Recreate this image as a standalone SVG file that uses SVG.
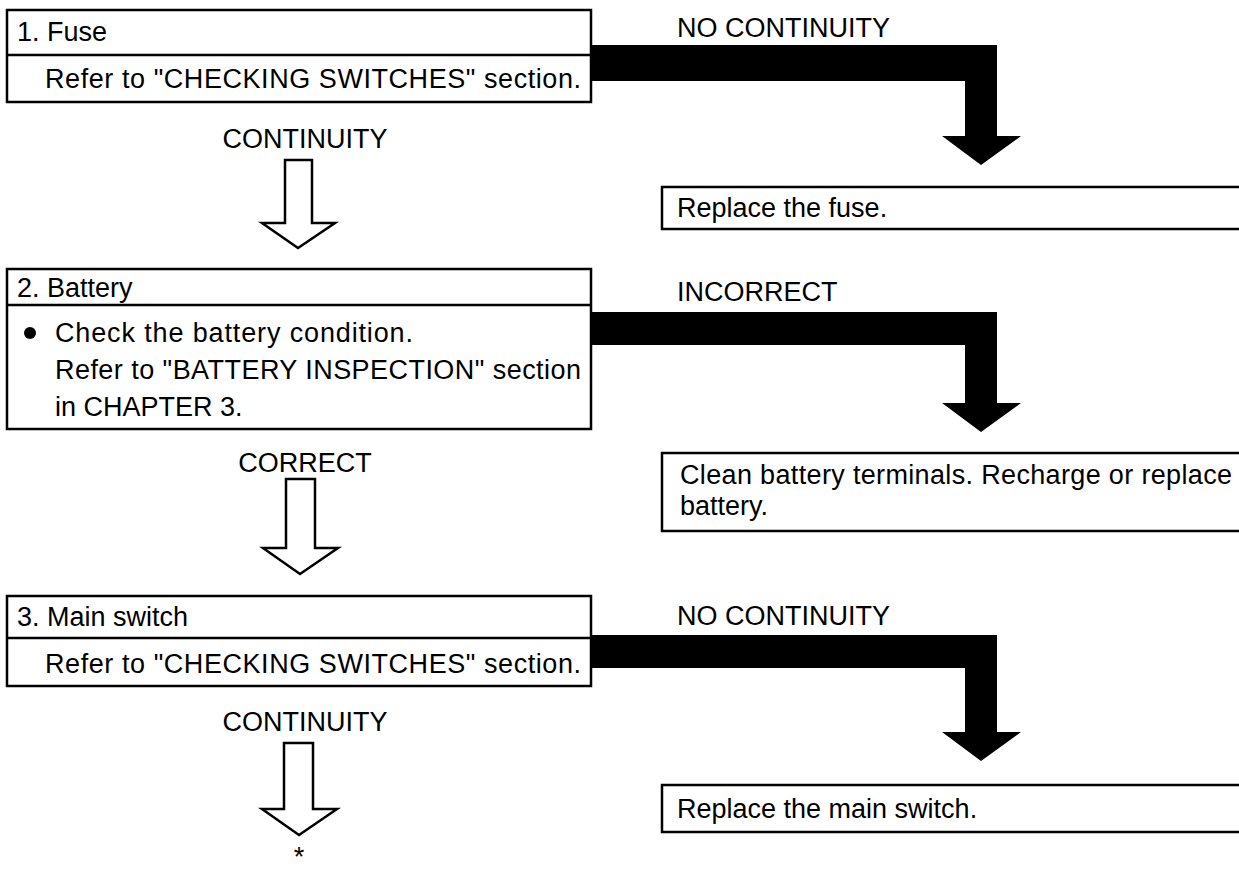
<svg xmlns="http://www.w3.org/2000/svg" width="1239" height="870" viewBox="0 0 1239 870">
  <style>
    .box { fill: #fff; stroke: #000; stroke-width: 2.5; }
    .rule { stroke: #000; stroke-width: 2.5; }
    .t { font-family: "Liberation Sans", Arial, sans-serif; font-size: 27px; fill: #000; }
    .solid { fill: #000; stroke: none; }
    .hollow { fill: #fff; stroke: #000; stroke-width: 2.5; stroke-linejoin: miter; }
  </style>
  <rect width="1239" height="870" fill="#fff"/>

  <!-- connectors -->
  <g id="connectors">
    <!-- hollow arrows (yes branch) -->
    <path class="hollow" d="M285,160 H312 V223 H335 L298,248 L262,223 H285 Z"/>
    <text class="t" x="305" y="148" text-anchor="middle">CONTINUITY</text>

    <path class="hollow" d="M286,479 H315 V548 H338 L300,574 L263,548 H286 Z"/>
    <text class="t" x="305" y="472" text-anchor="middle">CORRECT</text>

    <path class="hollow" d="M284,743 H313 V809 H337 L299,835 L262,809 H284 Z"/>
    <text class="t" x="305" y="731" text-anchor="middle">CONTINUITY</text>
    <text class="t" x="299" y="866" text-anchor="middle">*</text>

    <!-- solid arrows (no branch) -->
    <path class="solid" d="M592,45 H997 V136 H1021 L981,165 L942,136 H965 V81 H592 Z"/>
    <text class="t" x="677" y="37">NO CONTINUITY</text>

    <path class="solid" d="M592,312 H997 V403 H1021 L981,432 L942,403 H965 V345 H592 Z"/>
    <text class="t" x="677" y="301">INCORRECT</text>

    <path class="solid" d="M592,635 H997 V732 H1021 L981,761 L942,732 H965 V668 H592 Z"/>
    <text class="t" x="677" y="625">NO CONTINUITY</text>
  </g>

  <!-- step 1 -->
  <g id="step1">
    <rect class="box" x="7" y="10" width="584" height="92"/>
    <line class="rule" x1="7" y1="55" x2="591" y2="55"/>
    <text class="t" x="17" y="41">1. Fuse</text>
    <text class="t" x="45" y="88" textLength="536">Refer to "CHECKING SWITCHES" section.</text>
  </g>

  <g id="fix1">
    <rect class="box" x="662" y="187" width="580" height="42"/>
    <text class="t" x="677" y="217">Replace the fuse.</text>
  </g>

  <!-- step 2 -->
  <g id="step2">
    <rect class="box" x="7" y="269" width="584" height="160"/>
    <line class="rule" x1="7" y1="305" x2="591" y2="305"/>
    <text class="t" x="17" y="297">2. Battery</text>
    <circle cx="30" cy="333" r="6" fill="#000"/>
    <text class="t" x="55" y="342" textLength="358">Check the battery condition.</text>
    <text class="t" x="55" y="379" textLength="526">Refer to "BATTERY INSPECTION" section</text>
    <text class="t" x="55" y="416">in CHAPTER 3.</text>
  </g>

  <g id="fix2">
    <rect class="box" x="662" y="453" width="580" height="78"/>
    <text class="t" x="680" y="484" textLength="552">Clean battery terminals. Recharge or replace</text>
    <text class="t" x="680" y="515">battery.</text>
  </g>

  <!-- step 3 -->
  <g id="step3">
    <rect class="box" x="7" y="596" width="584" height="90"/>
    <line class="rule" x1="7" y1="638" x2="591" y2="638"/>
    <text class="t" x="17" y="626">3. Main switch</text>
    <text class="t" x="45" y="673" textLength="536">Refer to "CHECKING SWITCHES" section.</text>
  </g>

  <g id="fix3">
    <rect class="box" x="662" y="785" width="580" height="47"/>
    <text class="t" x="677" y="818">Replace the main switch.</text>
  </g>
</svg>
